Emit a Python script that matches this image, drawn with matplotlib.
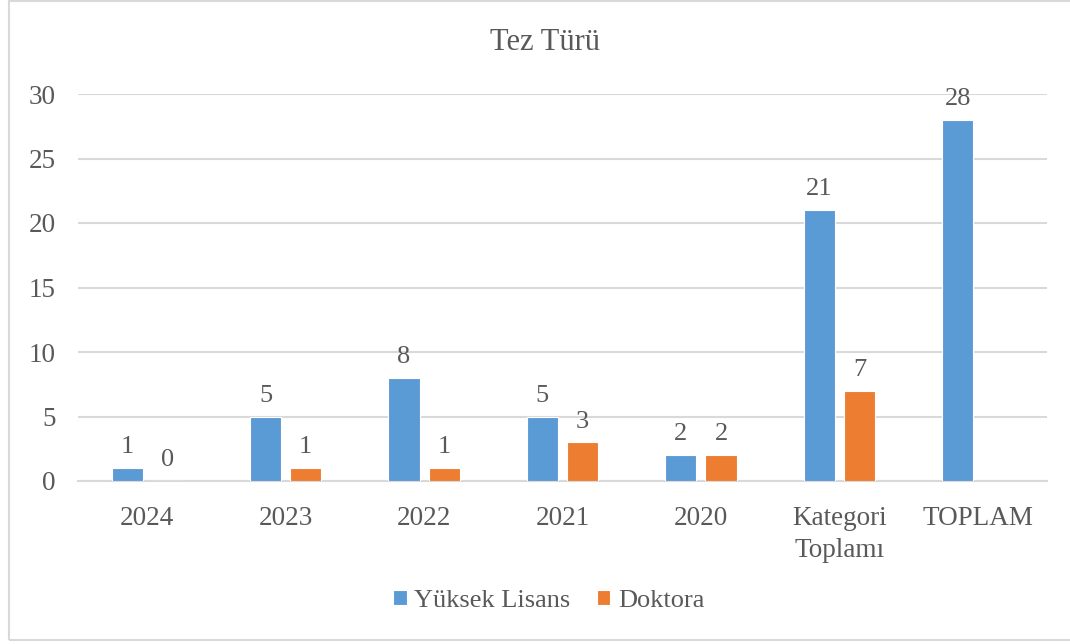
import numpy as np
import matplotlib.pyplot as plt
from matplotlib.patches import Rectangle

categories = ['2024', '2023', '2022', '2021', '2020', 'Kategori\nToplamı', 'TOPLAM']
yuksek_lisans = [1, 5, 8, 5, 2, 21, 28]
doktora = [0, 1, 1, 3, 2, 7, np.nan]

blue = '#5B9BD5'
orange = '#ED7D31'
text_color = '#595959'
grid_color = '#D9D9D9'

plt.rcParams['font.family'] = ['Liberation Serif', 'DejaVu Serif']

fig = plt.figure(figsize=(10.7, 6.44), dpi=100)
ax = fig.add_axes([78 / 1070, 1 - 481 / 644, (1047 - 78) / 1070, (481 - 94) / 644])

x = np.arange(len(categories))
w = 0.225
off = 0.145
b1 = ax.bar(x - off, yuksek_lisans, w, color=blue, edgecolor='white', linewidth=0.8,
            label='Yüksek Lisans', zorder=3)
b2 = ax.bar(x + off, doktora, w, color=orange, edgecolor='white', linewidth=0.8,
            label='Doktora', zorder=3)

# data labels
for xi, v in zip(x, yuksek_lisans):
    ax.annotate(f'{v}', (xi - off, v), xytext=(0, 7), textcoords='offset points',
                ha='center', va='bottom', fontsize=19, color=text_color)
for xi, v in zip(x, doktora):
    if not np.isnan(v):
        ax.annotate(f'{int(v)}', (xi + off, v), xytext=(0, 7), textcoords='offset points',
                    ha='center', va='bottom', fontsize=19, color=text_color)

ax.set_xlim(-0.5, len(categories) - 0.5)
ax.set_ylim(0, 30)
ax.set_yticks(range(0, 31, 5))
ax.yaxis.grid(True, color=grid_color, linewidth=1.5, zorder=0)
ax.set_axisbelow(True)
for s in ['top', 'right', 'left']:
    ax.spines[s].set_visible(False)
ax.spines['bottom'].set_color(grid_color)
ax.spines['bottom'].set_linewidth(1.5)
ax.tick_params(axis='both', length=0, labelsize=19.5, labelcolor=text_color)
ax.tick_params(axis='y', pad=16)
ax.tick_params(axis='x', pad=18)
ax.set_xticks(x)
ax.set_xticklabels(categories, linespacing=1.35)

fig.text(545 / 1070, 1 - 43 / 644, 'Tez Türü', ha='center', va='center',
         fontsize=22, color=text_color)

leg = fig.legend(handles=[b1, b2], loc='center', bbox_to_anchor=(549 / 1070, 1 - 601 / 644),
                 ncol=2, frameon=False, fontsize=19, handlelength=0.5, handleheight=0.5,
                 handletextpad=0.3, columnspacing=1.0)
for t in leg.get_texts():
    t.set_color(text_color)

fig.patches.append(Rectangle((9 / 1070, 1 - 640 / 644), 1.1, 639 / 644, transform=fig.transFigure,
                             fill=False, edgecolor='#D9D9D9', linewidth=1.5))

fig.savefig('out.png', dpi=100, facecolor='white')
